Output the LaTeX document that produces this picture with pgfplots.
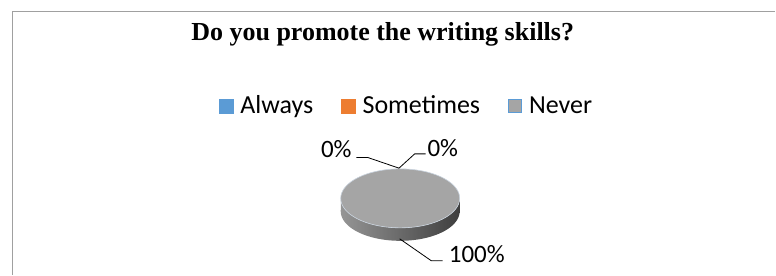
\documentclass[border=0pt]{standalone}
\usepackage{pgfplots}
\pgfplotsset{compat=1.18}
\usepackage{pgfplotstable}
\usepackage{fontspec}
\setmainfont{Carlito}
\newfontfamily\titlefont{Liberation Serif}
\definecolor{cAlways}{HTML}{5B9BD5}
\definecolor{cSome}{HTML}{ED7D31}
\definecolor{cNever}{HTML}{A5A5A5}
\definecolor{cFrame}{HTML}{A0A0A0}
\definecolor{cEdge}{HTML}{C9D3DE}
\definecolor{sideL}{HTML}{959595}
\definecolor{sideM}{HTML}{7C7C7C}
\definecolor{sideR}{HTML}{3E3E3E}

% Survey answers (percent)
\pgfplotstableread{
answer value
Always 0
Sometimes 0
Never 100
}\piedata

\begin{document}
\begin{tikzpicture}
\begin{axis}[
  hide axis, scale only axis, width=776pt, height=275pt,
  xmin=0, xmax=776, ymin=0, ymax=275, clip=false,
  legend columns=3,
  legend style={draw=none, fill=none,
    at={(axis description cs:0.523,0.6134)}, anchor=center,
    inner sep=0pt, outer sep=0pt,
    font=\fontsize{26}{30}\selectfont,
    nodes={inner sep=0pt, text height=17pt, text depth=3pt},
    /tikz/every odd column/.append style={column sep=7pt},
    /tikz/every even column/.append style={column sep=28pt}},
]
\path (axis cs:0,0) rectangle (axis cs:776,275);

\addlegendimage{legend image code/.code={\fill[cAlways] (0pt,-7pt) rectangle (14pt,7pt);}}
\addlegendentry{Always}
\addlegendimage{legend image code/.code={\fill[cSome] (0pt,-7pt) rectangle (14pt,7pt);}}
\addlegendentry{Sometimes}
\addlegendimage{legend image code/.code={\filldraw[fill=cNever, draw=cAlways, line width=1.2pt] (0.6pt,-6.4pt) rectangle (13.4pt,6.4pt);}}
\addlegendentry{Never}

% frame
\addplot[cFrame, line width=1.2pt, forget plot] coordinates {(12.3,0) (12.3,263.5) (776,263.5)};

% side of the 3-D pie (Never = 100% -> full circle)
\addplot[draw=none, left color=sideL, middle color=sideM, right color=sideR,
  samples at={0,3,...,180,180.001,183,186,...,360}, variable=\t, forget plot]
  ({400.5+59.5*cos(\t)},{76.5-29.5*abs(sin(\t))-13*(\t<=180)}) -- cycle;
% top of the pie
\addplot[fill=cNever, draw=cEdge, line width=0.6pt, domain=0:360, samples=145, variable=\t, forget plot]
  ({400.5+59.5*cos(\t)},{76.5+29.5*sin(\t)}) -- cycle;

% leader lines
\addplot[black, line width=0.8pt, forget plot] coordinates {(356.7,117.3) (368.3,117.3) (399.3,106.7)};
\addplot[black, line width=0.8pt, forget plot] coordinates {(399.3,106.7) (415,121) (426,121)};
\addplot[black, line width=0.8pt, forget plot] coordinates {(400,36) (431.7,14) (443,14)};

% data labels
\node[anchor=base east, font=\fontsize{25}{30}\selectfont, inner sep=0pt] at (axis cs:352,117.3) {0\%};
\node[anchor=base west, font=\fontsize{25}{30}\selectfont, inner sep=0pt] at (axis cs:427.7,118.3) {0\%};
\node[anchor=base west, font=\fontsize{25}{30}\selectfont, inner sep=0pt] at (axis cs:449,12.3) {100\%};

% title
\node[anchor=base, font=\titlefont\bfseries\fontsize{26}{30}\selectfont, inner sep=0pt] at (axis cs:383,234) {Do you promote the writing skills?};
\end{axis}
\end{tikzpicture}
\end{document}
